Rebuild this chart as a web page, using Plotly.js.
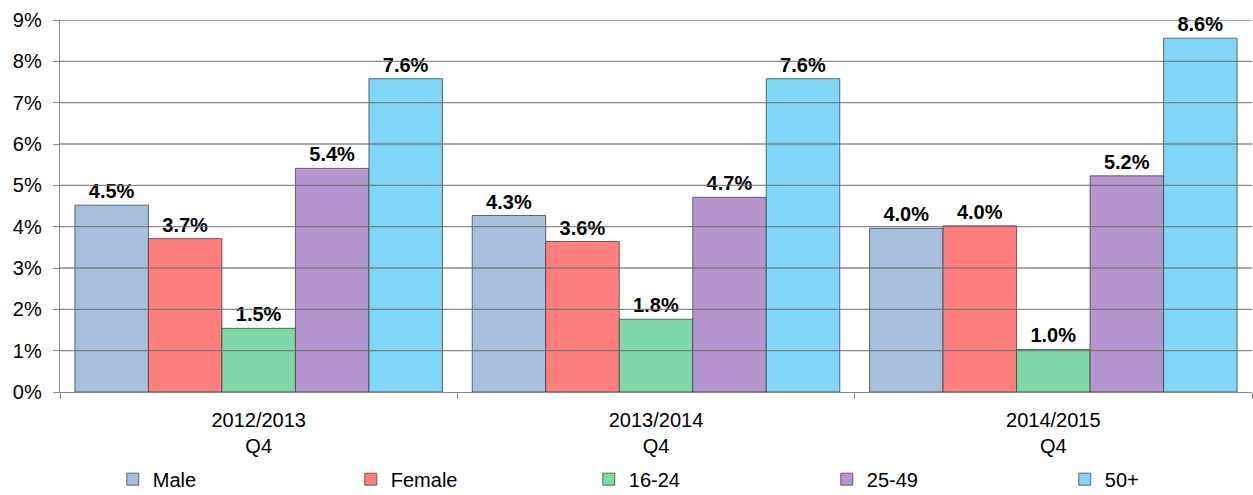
<!DOCTYPE html>
<html>
<head>
<meta charset="utf-8">
<script src="https://cdn.plot.ly/plotly-3.0.1.min.js"></script>
<style>
  html, body { margin: 0; padding: 0; background: #fff; }
  #plot { width: 1253px; height: 495px; }
</style>
</head>
<body>
<div id="plot"></div>
<script>
// categories on the x axis
var periods = ["2012/2013<br>Q4", "2013/2014<br>Q4", "2014/2015<br>Q4"];

// series values (percent)
var male   = [4.52, 4.27, 3.96];
var female = [3.71, 3.64, 4.02];
var age1624 = [1.54, 1.76, 1.03];
var age2549 = [5.41, 4.71, 5.23];
var age50   = [7.58, 7.58, 8.56];

var seriesNames = ["Male", "Female", "16-24", "25-49", "50+"];
var seriesValues = [male, female, age1624, age2549, age50];
var seriesColors = ["#A7BFDE", "#FF7F7F", "#80D8A6", "#B495CE", "#7FD6F7"];

var yTicks = [0, 1, 2, 3, 4, 5, 6, 7, 8, 9];

var data = seriesNames.map(function (name, i) {
  return {
    x: periods,
    y: seriesValues[i],
    name: name,
    type: "bar",
    marker: { color: seriesColors[i], line: { color: "rgba(60,60,60,0.75)", width: 1 } },
    texttemplate: "%{y:.1f}%",
    textposition: "outside",
    cliponaxis: false,
    textfont: { family: "Liberation Sans, Arial, sans-serif", size: 20, color: "#000", weight: "bold" },
    hoverinfo: "skip"
  };
});

// gridlines drawn over the bars, like the original
var gridShapes = yTicks.slice(1).map(function (t) {
  return {
    type: "line", xref: "paper", x0: 0, x1: 1, yref: "y", y0: t, y1: t,
    line: { color: "rgba(110,110,110,0.8)", width: 1.3 }, layer: "above"
  };
});

var layout = {
  width: 1253,
  height: 495,
  margin: { l: 60, r: 1, t: 20, b: 103 },
  paper_bgcolor: "#fff",
  plot_bgcolor: "#fff",
  font: { family: "Liberation Sans, Arial, sans-serif", size: 20, color: "#000" },
  barmode: "group",
  bargap: 0.075,
  bargroupgap: 0,
  showlegend: true,
  legend: {
    orientation: "h",
    xref: "container", yref: "container",
    x: 0.09, xanchor: "left",
    y: 0.032, yanchor: "middle",
    entrywidth: 193,
    itemwidth: 30,
    bgcolor: "rgba(0,0,0,0)",
    font: { size: 20 },
    traceorder: "normal"
  },
  xaxis: {
    type: "category",
    tickson: "boundaries",
    ticks: "outside",
    ticklen: 6,
    tickcolor: "#888",
    ticklabelstandoff: 10,
    showline: true,
    linecolor: "#888",
    linewidth: 1.3,
    showgrid: false,
    tickfont: { size: 20 },
    fixedrange: true
  },
  yaxis: {
    range: [0, 9],
    tickvals: yTicks,
    ticktext: yTicks.map(function (t) { return t + "%"; }),
    ticks: "outside",
    ticklen: 6,
    tickcolor: "#888",
    ticklabelstandoff: 7,
    showline: true,
    linecolor: "#888",
    linewidth: 1.3,
    showgrid: false,
    zeroline: false,
    tickfont: { size: 20 },
    fixedrange: true
  },
  shapes: gridShapes
};

Plotly.newPlot("plot", data, layout, { displayModeBar: false, staticPlot: true });
</script>
</body>
</html>
